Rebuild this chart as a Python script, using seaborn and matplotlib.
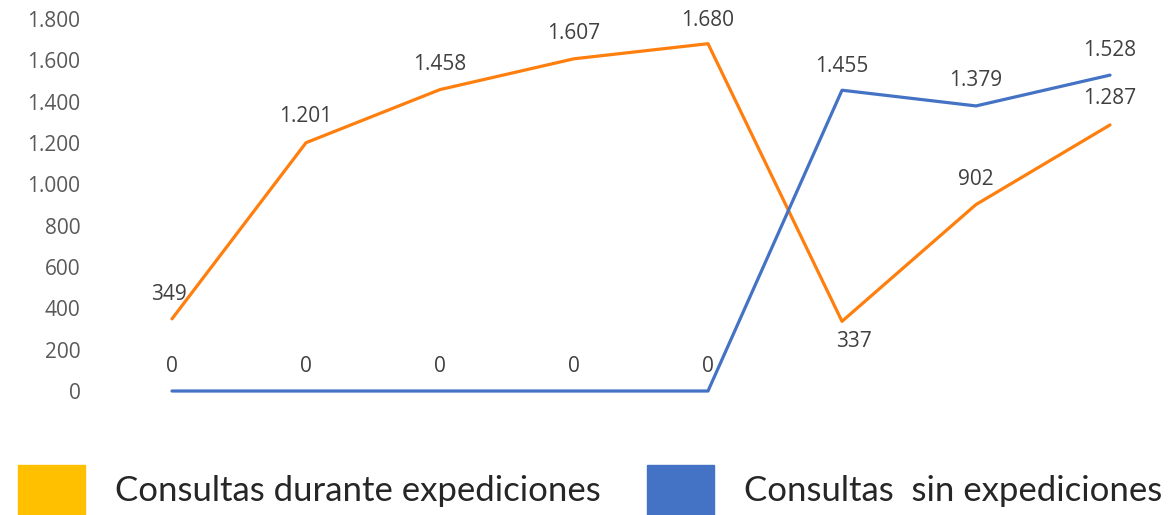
import seaborn as sns
import matplotlib.pyplot as plt
import matplotlib.patches as mpatches
from matplotlib import font_manager
from matplotlib.ticker import FuncFormatter
import pandas as pd

sns.set_style("white")
plt.rcParams['font.family'] = ['Open Sans', 'DejaVu Sans']

periodos = list(range(8))
durante = [349, 1201, 1458, 1607, 1680, 337, 902, 1287]
sin_exp = [0, 0, 0, 0, 0, 1455, 1379, 1528]
serie_durante = "Consultas durante expediciones"
serie_sin = "Consultas  sin expediciones"
yticks = list(range(0, 1801, 200))

# label offsets in pixels (dx, dy) relative to the point
off_durante = [(-3, 24), (0, 26), (0, 25), (0, 25), (0, 23), (12, -20), (0, 25), (0, 26)]
off_sin = [(0, 25)] * 5 + [(0, 24), (0, 25), (0, 25)]

names = {f.name for f in font_manager.fontManager.ttflist}
legend_font = 'Liberation Sans Narrow' if 'Liberation Sans Narrow' in names else 'Lato'


def thousands(v, pos):
    return f"{int(v):,}".replace(",", ".")


def main():
    df = pd.DataFrame({
        "periodo": periodos * 2,
        "consultas": durante + sin_exp,
        "serie": [serie_durante] * 8 + [serie_sin] * 8,
    })

    fig = plt.figure(figsize=(11.76, 5.15), dpi=100)
    ax = fig.add_axes([100 / 1176, 115 / 515, 1076 / 1176, 390 / 515])
    palette = {serie_durante: "#FF7F0E", serie_sin: "#4472C4"}
    sns.lineplot(data=df, x="periodo", y="consultas", hue="serie", palette=palette,
                 linewidth=2.3, legend=False, ax=ax)

    ax.set_xlim(-72 / 134, 7 + 66 / 134)
    ax.set_ylim(-43.5, 1843)
    ax.set_yticks(yticks)
    ax.yaxis.set_major_formatter(FuncFormatter(thousands))
    ax.set_xticks([])
    ax.set_xlabel("")
    ax.set_ylabel("")
    ax.tick_params(axis='y', length=0, pad=14, labelsize=15, labelcolor="#595959")
    for s in ax.spines.values():
        s.set_visible(False)

    for vals, offs in ((durante, off_durante), (sin_exp, off_sin)):
        for x, y, (dx, dy) in zip(periodos, vals, offs):
            ax.annotate(thousands(y, None), (x, y), xytext=(dx, dy), textcoords='offset pixels',
                        ha='center', va='center', fontsize=15, color="#404040")

    handles = [mpatches.Patch(color="#FFC000", label=serie_durante),
               mpatches.Patch(color="#4472C4", label=serie_sin)]
    fig.legend(handles=handles, loc='lower left', bbox_to_anchor=(18 / 1176, 0), ncol=2,
               frameon=False, borderpad=0, borderaxespad=0,
               prop={'family': legend_font, 'size': 25},
               handlelength=1.93, handleheight=1.85, handletextpad=0.86, columnspacing=1.33)

    fig.savefig("out.png", dpi=100)
    plt.close()


if __name__ == '__main__':
    main()
